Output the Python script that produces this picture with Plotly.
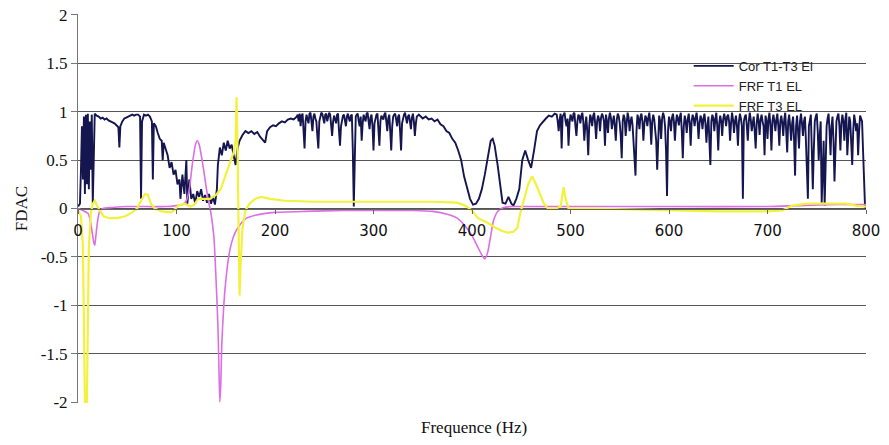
import plotly.graph_objects as go

# ---------------- data ----------------
# Cor T1-T3 El : hand-read values, split in pieces
cor_freq_a = [0, 2, 3, 4, 5, 6, 7, 8, 9, 10, 11, 12, 13, 14, 15, 16, 17,
              19, 21, 23, 25, 27, 29, 31, 33, 35, 37, 39, 41, 42, 43, 45, 47, 49, 51, 53, 55, 57, 59, 61, 63, 64, 65,
              67, 69, 71, 73, 75, 76, 77,
              79, 81, 83, 85, 86, 87, 89, 91, 93, 95, 97, 99, 101, 103, 104, 106, 108, 110, 111, 113, 115, 117, 119,
              121, 123, 125, 127, 129, 131, 133, 135, 137, 139, 141, 142, 144, 146, 148, 150, 152, 154, 156, 158, 160,
              162, 164, 167, 170, 173, 176, 179, 182, 185, 188, 190, 192, 195, 198, 201, 204, 207, 210, 213, 216, 219]
cor_val_a = [0.02, 0.05, 0.4, 0.85, 0.3, 0.95, 0.15, 0.97, 0.25, 0.98, 0.2, 0.9, 0.4, 0.97, 0.05, 0.6, 0.98,
             0.96, 0.95, 0.93, 0.94, 0.92, 0.93, 0.91, 0.9, 0.89, 0.88, 0.86, 0.84, 0.63, 0.85, 0.9, 0.93, 0.94, 0.95,
             0.96, 0.97, 0.96, 0.97, 0.97, 0.95, 0.1, 0.9,
             0.97, 0.96, 0.97, 0.95, 0.9, 0.3, 0.88,
             0.85, 0.78, 0.72, 0.7, 0.5, 0.68, 0.6, 0.55, 0.42, 0.48, 0.35, 0.4, 0.25, 0.3, 0.1, 0.35, 0.15, 0.5, 0.05,
             0.3, 0.1, 0.15, 0.05,
             0.18, 0.12, 0.2, 0.08, 0.14, 0.06, 0.15, 0.05, 0.12, 0.04, 0.2, 0.45, 0.63, 0.55, 0.68, 0.6, 0.7, 0.62,
             0.66, 0.55, 0.45,
             0.62, 0.7, 0.76, 0.8, 0.78, 0.8, 0.77, 0.79, 0.74, 0.7, 0.68, 0.8, 0.84, 0.86, 0.85, 0.88, 0.9, 0.89, 0.92,
             0.93, 0.92]

cor_freq_b = list(range(222, 347))          # 1 Hz resolution
cor_val_b = [0.95, 0.97, 0.9, 0.98, 0.85, 0.96, 0.98, 0.8, 0.62, 0.9,
             0.97, 0.92, 0.88, 0.98, 0.99, 0.9, 0.8, 0.95, 0.98, 0.93,
             0.9, 0.75, 0.62, 0.9, 0.97, 0.99, 0.98, 0.92, 0.88, 0.97,
             0.98, 0.9, 0.95, 0.99, 0.97, 0.85, 0.75, 0.9, 0.96, 0.92,
             0.88, 0.97, 0.98, 0.8, 0.65, 0.85, 0.9, 0.96, 0.97, 0.9,
             0.85, 0.95, 0.98, 0.93, 0.9, 0.96, 0.97, 0.6, 0.02, 0.5,
             0.95, 0.97, 0.98, 0.9, 0.85, 0.95, 0.7, 0.88, 0.97, 0.93,
             0.9, 0.98, 0.99, 0.9, 0.82, 0.94, 0.97, 0.85, 0.6, 0.88,
             0.95, 0.97, 0.98, 0.85, 0.65, 0.9, 0.96, 0.94, 0.92, 0.97,
             0.99, 0.9, 0.8, 0.93, 0.97, 0.8, 0.6, 0.85, 0.95, 0.97,
             0.98, 0.92, 0.85, 0.95, 0.97, 0.8, 0.6, 0.88, 0.95, 0.97,
             0.99, 0.93, 0.88, 0.95, 0.97, 0.9, 0.82, 0.94, 0.98, 0.9,
             0.75, 0.88, 0.95, 0.96, 0.97]

cor_freq_c = [350, 353, 356, 359, 362, 365, 368, 371, 374, 377, 380, 383, 386, 389, 392, 395, 398, 401, 404, 407,
              410, 413, 416, 419, 421, 423, 426, 429, 431, 434, 437, 440, 442, 445, 448, 451, 454, 457, 460, 463,
              466, 469, 472, 475, 478, 481, 484]
cor_val_c = [0.93, 0.95, 0.92, 0.93, 0.9, 0.92, 0.87, 0.85, 0.8, 0.78, 0.72, 0.68, 0.6, 0.5, 0.33, 0.2, 0.1, 0.04,
             0.05, 0.1, 0.2, 0.35, 0.55, 0.7, 0.72, 0.65, 0.45, 0.2, 0.06, 0.05, 0.12, 0.05, 0.03, 0.1, 0.2, 0.5,
             0.6, 0.5, 0.42, 0.6, 0.8, 0.86, 0.9, 0.93, 0.96, 0.95, 0.98]

cor_freq_d = list(range(486, 801))          # 1 Hz resolution
cor_val_d = [0.97, 0.9, 0.8, 0.92, 0.98, 0.62, 0.95, 0.97, 0.99, 0.9,
             0.85, 0.93, 0.65, 0.88, 0.97, 0.94, 0.9, 0.98, 0.99, 0.85,
             0.75, 0.9, 0.97, 0.95, 0.88, 0.96, 0.99, 0.9, 0.7, 0.85,
             0.95, 0.8, 0.55, 0.85, 0.97, 0.93, 0.85, 0.96, 0.99, 0.88,
             0.72, 0.9, 0.96, 0.92, 0.8, 0.94, 0.98, 0.95, 0.9, 0.65,
             0.97, 0.9, 0.78, 0.93, 0.99, 0.94, 0.82, 0.9, 0.96, 0.85,
             0.7, 0.92, 0.98, 0.95, 0.88, 0.75, 0.52, 0.9, 0.97, 0.93,
             0.75, 0.88, 0.99, 0.94, 0.8, 0.9, 0.95, 0.86, 0.68, 0.6,
             0.34, 0.8, 0.97, 0.92, 0.82, 0.95, 0.98, 0.9, 0.7, 0.88,
             0.96, 0.93, 0.85, 0.94, 0.99, 0.88, 0.66, 0.9, 0.97, 0.92,
             0.8, 0.7, 0.4, 0.85, 0.96, 0.9, 0.72, 0.93, 0.99, 0.95,
             0.85, 0.6, 0.13, 0.8, 0.95, 0.9, 0.8, 0.94, 0.98, 0.9,
             0.7, 0.88, 0.97, 0.93, 0.86, 0.95, 0.99, 0.8, 0.52, 0.85,
             0.96, 0.9, 0.78, 0.92, 0.98, 0.88, 0.65, 0.9, 0.97, 0.93,
             0.85, 0.94, 0.99, 0.9, 0.72, 0.88, 0.96, 0.92, 0.82, 0.93,
             0.98, 0.88, 0.68, 0.85, 0.95, 0.7, 0.45, 0.9, 0.97, 0.93,
             0.8, 0.92, 0.99, 0.85, 0.6, 0.88, 0.96, 0.9, 0.75, 0.92,
             0.98, 0.93, 0.85, 0.95, 0.97, 0.9, 0.7, 0.88, 0.99, 0.92,
             0.78, 0.9, 0.96, 0.85, 0.65, 0.9, 0.98, 0.93, 0.85, 0.1,
             0.9, 0.95, 0.97, 0.85, 0.7, 0.9, 0.99, 0.92, 0.8, 0.88,
             0.95, 0.8, 0.62, 0.88, 0.98, 0.9, 0.76, 0.92, 0.97, 0.9,
             0.85, 0.55, 0.96, 0.9, 0.72, 0.93, 0.99, 0.85, 0.6, 0.9,
             0.97, 0.9, 0.8, 0.92, 0.98, 0.85, 0.65, 0.9, 0.96, 0.88,
             0.75, 0.92, 0.99, 0.8, 0.58, 0.9, 0.97, 0.85, 0.7, 0.88,
             0.95, 0.7, 0.34, 0.85, 0.96, 0.8, 0.62, 0.9, 0.98, 0.88,
             0.75, 0.9, 0.95, 0.7, 0.4, 0.1, 0.85, 0.9, 0.97, 0.6,
             0.2, 0.6, 0.9, 0.95, 0.98, 0.8, 0.5, 0.75, 0.9, 0.06,
             0.4, 0.7, 0.03, 0.5, 0.85, 0.93, 0.98, 0.8, 0.55, 0.85,
             0.95, 0.7, 0.28, 0.6, 0.9, 0.95, 0.98, 0.85, 0.6, 0.88,
             0.97, 0.9, 0.7, 0.92, 0.99, 0.55, 0.85, 0.95, 0.9, 0.7,
             0.45, 0.8, 0.97, 0.9, 0.8, 0.88, 0.55, 0.8, 0.96, 0.93,
             0.9, 0.6, 0.3, 0.02, 0.0]

cor_freq = cor_freq_a + cor_freq_b + cor_freq_c + cor_freq_d
cor_val = cor_val_a + cor_val_b + cor_val_c + cor_val_d

frf1_freq = [0, 5, 10, 12, 14, 16, 17, 18, 20, 22, 25, 35, 50, 70, 90, 100, 106, 110, 113, 116, 119, 121, 123,
             126, 129, 132, 135, 138, 140, 142, 143, 144, 145, 146, 148, 150, 153, 156, 160, 165, 171, 180, 190,
             200, 230, 270, 300, 340, 360, 375, 385, 393, 400, 405, 410, 413, 416, 419, 422, 426, 432, 440, 460,
             500, 600, 700, 730, 760, 800]
frf1_val = [0, -0.02, -0.05, -0.1, -0.22, -0.35, -0.38, -0.3, -0.12, -0.03, 0.0, 0.01, 0.02, 0.02, 0.02, 0.03,
            0.04, 0.08, 0.2, 0.45, 0.65, 0.7, 0.66, 0.5, 0.3, 0.1, -0.05, -0.3, -0.7, -1.2, -1.6, -2.0, -1.8,
            -1.4, -1.0, -0.75, -0.5, -0.35, -0.24, -0.16, -0.1, -0.07, -0.05, -0.04, -0.03, -0.02, -0.02, -0.02,
            -0.03, -0.06, -0.1, -0.18, -0.28, -0.38, -0.48, -0.52, -0.45, -0.28, -0.12, -0.03, 0.01, 0.02, 0.02,
            0.02, 0.02, 0.02, 0.03, 0.04, 0.04]

frf3_freq = [0, 3, 5, 6, 7, 9, 10, 11, 13, 15, 17, 19, 22, 26, 32, 40, 48, 55, 60, 64, 68, 71, 74, 78, 85, 95,
             102, 108, 114, 118, 122, 128, 134, 140, 145, 150, 154, 158, 160, 161, 162, 163, 164, 165, 167, 170,
             174, 180, 186, 195, 210, 240, 280, 320, 360, 385, 393, 400, 406, 412, 418, 424, 430, 436, 442, 446,
             449, 453, 457, 461, 465, 469, 473, 477, 485, 490, 493, 495, 498, 520, 560, 600, 650, 700, 715, 725,
             740, 760, 780, 790, 800]
frf3_val = [-0.02, -0.08, -0.4, -1.2, -2.0, -2.0, -1.0, -0.4, -0.05, 0.05, 0.08, 0.04, -0.02, -0.08, -0.1, -0.1,
            -0.08, -0.04, 0.0, 0.08, 0.15, 0.14, 0.05, 0.0, -0.03, -0.04, 0.03, 0.05, 0.02, 0.04, 0.1, 0.1, 0.1,
            0.14, 0.2, 0.35, 0.46, 0.58, 0.7, 1.15, 0.6, -0.2, -0.9, -0.6, -0.2, -0.02, 0.05, 0.1, 0.12, 0.1, 0.08,
            0.07, 0.07, 0.07, 0.07, 0.06, 0.03, -0.02, -0.1, -0.13, -0.16, -0.2, -0.23, -0.25, -0.24, -0.2, -0.05,
            0.1, 0.25, 0.33, 0.25, 0.15, 0.05, 0.0, 0.0, 0.02, 0.22, 0.1, 0.0, 0.0, -0.01, -0.02, -0.03, -0.03,
            -0.02, 0.03, 0.05, 0.05, 0.05, 0.03, 0.02]

series_names = ["Cor T1-T3 El", "FRF T1 EL", "FRF T3 EL"]
y_ticks = [-2, -1.5, -1, -0.5, 0, 0.5, 1, 1.5, 2]
x_ticks = [0, 100, 200, 300, 400, 500, 600, 700, 800]

# ---------------- figure ----------------
fig = go.Figure()
fig.add_trace(go.Scatter(x=cor_freq, y=cor_val, mode="lines", name=series_names[0],
                         line=dict(color="#151550", width=1.9)))
fig.add_trace(go.Scatter(x=frf1_freq, y=frf1_val, mode="lines", name=series_names[1],
                         line=dict(color="#dc6fe6", width=1.6, shape="spline", smoothing=0.6)))
fig.add_trace(go.Scatter(x=frf3_freq, y=frf3_val, mode="lines", name=series_names[2],
                         line=dict(color="#f2f23c", width=2.2)))

fig.update_layout(
    width=889, height=445,
    margin=dict(l=78, r=23, t=14, b=42, autoexpand=False),
    paper_bgcolor="white", plot_bgcolor="white",
    showlegend=True,
    legend=dict(x=0.775, y=0.905, xanchor="left", yanchor="top",
                bgcolor="rgba(0,0,0,0)", borderwidth=0, itemwidth=40,
                font=dict(family="Liberation Sans", size=13, color="#222"),
                tracegroupgap=0),
    xaxis=dict(range=[0, 800], tickvals=x_ticks, ticktext=[str(v) for v in x_ticks],
               anchor="free", position=0.5, showline=True, linecolor="#666", linewidth=1,
               showgrid=False, zeroline=False, ticks="outside", ticklen=4, tickcolor="#666",
               tickfont=dict(family="DejaVu Sans", size=15, color="#111"),
               ticklabelstandoff=4, automargin=False),
    yaxis=dict(range=[-2.01, 2.01], tickvals=y_ticks, ticktext=[("%g" % v) for v in y_ticks],
               showline=True, linecolor="#777", linewidth=1, mirror=False,
               showgrid=True, gridcolor="#555", gridwidth=1, zeroline=False,
               ticks="outside", ticklen=6, tickcolor="#777", automargin=False,
               ticklabeloverflow="allow",
               tickfont=dict(family="Liberation Serif", size=17, color="#111"),
               title=dict(text="FDAC", font=dict(family="Liberation Serif", size=17, color="#111"),
                          standoff=8)),
    annotations=[dict(text="Frequence (Hz)", xref="paper", yref="paper", x=0.5025, y=-0.064,
                      xanchor="center", yanchor="middle", showarrow=False,
                      font=dict(family="Liberation Serif", size=17, color="#111"))],
)

# remove the default 8px page margin so the figure fills the 889x445 window exactly
fig.write_html("out.html",
               config={"displayModeBar": False},
               post_script="document.body.style.margin='0';document.body.style.overflow='hidden';")
